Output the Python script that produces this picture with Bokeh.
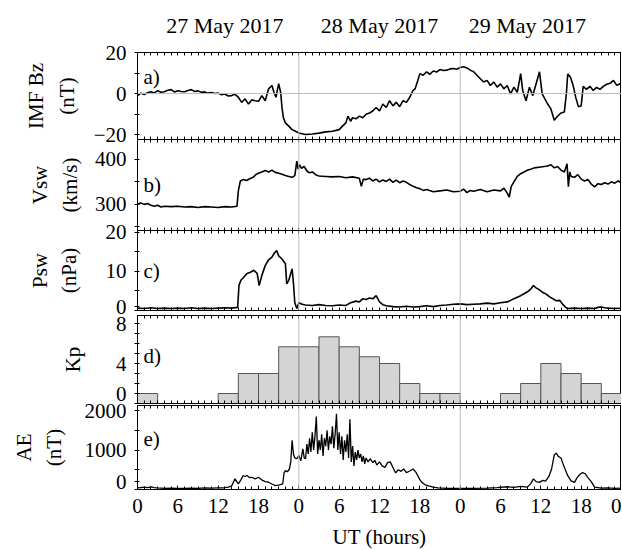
import math
from bokeh.plotting import figure
from bokeh.layouts import column
from bokeh.models import Range1d, FixedTicker, LinearAxis, Span, Label
from bokeh.embed import file_html
from bokeh.resources import INLINE

# ---------------- data (hours since 27 May 2017 00 UT) ----------------
bz_pts = [(0,-1.0),(0.5,0.2),(1,-0.5),(1.5,0.4),(2,0.9),(2.5,0.3),(3,1.4),(3.5,0.6),(4,0.9),(4.5,1.6),
          (5,1.9),(5.5,0.8),(6,1.4),(6.5,1.0),(7,0.9),(7.5,1.5),(8,1.9),(8.5,1.0),(9,1.3),(9.5,0.6),
          (10,0.8),(10.5,0.2),(11,0.5),(11.5,0.0),(12,0.2),(12.5,-0.6),(13,-0.2),(13.5,-1.2),(14,-1.0),
          (14.5,-0.4),(15,-1.8),(15.5,-4.3),(16,-2.6),(16.5,-5.1),(17,-3.1),(17.5,-3.5),(18,-3.8),
          (18.5,-1.0),(19,-3.5),(19.5,2.3),(20,3.9),(20.3,0.6),(20.6,-1.8),(20.8,1.5),(21,4.8),
          (21.3,0.5),(21.5,-7.0),(21.7,-11.8),(22,-14.3),(22.5,-15.9),(23,-17.6),(23.5,-18.4),
          (24,-19.2),(24.5,-19.6),(25,-20.0),(26,-19.7),(27,-19.3),(28,-18.7),(29,-18.4),(30,-17.6),
          (30.5,-15.9),(31,-14.3),(31.3,-11.0),(31.7,-13.5),(32,-11.8),(32.5,-12.3),(33,-11.0),
          (33.5,-11.8),(34,-10.1),(34.5,-9.5),(35,-8.5),(35.5,-6.8),(36,-8.5),(36.5,-5.1),(37,-6.8),
          (37.5,-3.5),(38,-6.0),(38.5,-4.3),(39,-6.4),(39.5,-3.5),(40,-4.3),(40.5,-1.8),(41,1.5),
          (41.3,2.3),(41.7,6.4),(42,9.7),(42.5,8.9),(43,10.6),(43.5,9.4),(44,11.0),(44.5,10.5),
          (45,11.7),(45.5,11.2),(46,11.4),(46.5,12.0),(47,12.2),(47.5,11.8),(48,12.7),(48.5,13.1),
          (49,12.5),(49.5,11.4),(50,10.6),(50.5,8.9),(51,7.2),(51.5,5.6),(52,6.4),(52.5,3.9),(53,5.6),
          (53.5,3.1),(54,4.7),(54.5,2.3),(55,3.9),(55.5,-0.2),(56,3.1),(56.5,0.6),(57,9.7),(57.3,1.5),
          (57.8,-3.5),(58.3,3.1),(58.8,-1.0),(59.3,4.8),(59.8,10.6),(60.2,-0.2),(60.5,-2.0),(61,-5.0),
          (61.5,-7.5),(62,-13.0),(62.5,-11.0),(63,-9.5),(63.5,-9.0),(63.8,0.0),(64,9.5),(64.4,8.0),
          (64.8,4.0),(65.2,-2.0),(65.6,-6.5),(66,-6.0),(66.3,3.5),(66.8,2.0),(67.3,3.5),(67.8,1.5),
          (68.3,3.0),(68.8,2.0),(69.3,3.5),(69.8,4.5),(70.3,5.0),(70.8,6.4),(71.3,4.0),(72,5.0)]

vsw_pts = [(0,301),(0.5,303),(1,300),(1.5,302),(2,298),(2.5,296),(3,298),(3.5,294),(4,296),(5,295),
           (6,296),(7,294),(8,295),(9,293),(10,295),(11,294),(12,293),(13,295),(14,294),(14.8,296),
           (15.0,330),(15.3,352),(15.7,355),(16.2,353),(16.7,357),(17.2,360),(17.6,366),(18,369),
           (18.5,372),(19,375),(19.5,372),(20,376),(20.5,371),(21,369),(21.5,367),(22,364),(22.5,362),
           (23,360),(23.4,364),(23.7,396),(23.9,378),(24.1,388),(24.4,380),(24.8,384),(25.2,374),
           (25.6,370),(26,372),(26.5,366),(27,363),(28,362),(29,361),(30,362),(31,359),(32,361),
           (33,358),(33.3,340),(33.6,356),(34,355),(34.5,358),(35,352),(35.5,356),(36,350),(36.5,354),
           (37,351),(37.5,356),(38,349),(38.5,354),(39,348),(39.5,352),(40,349),(40.5,344),(41,340),
           (41.5,337),(42,335),(42.5,331),(43,333),(44,328),(45,330),(46,332),(47,328),(48,329),
           (48.5,334),(49,326),(49.5,331),(50,329),(51,333),(52,328),(53,332),(54,330),(54.5,336),
           (55,325),(55.3,316),(55.6,340),(56,350),(56.5,362),(57,368),(57.5,372),(58,376),(58.5,378),
           (59,381),(60,383),(61,385),(61.5,388),(62,381),(62.5,384),(63,376),(63.5,372),(63.9,390),
           (64.1,339),(64.3,372),(64.5,362),(65,360),(65.5,366),(66,356),(66.5,352),(67,355),
           (67.5,345),(68,339),(68.5,346),(69,344),(69.5,348),(70,345),(70.5,350),(71,347),
           (71.5,352),(72,348)]

psw_pts = [(0,0.6),(1,0.5),(2,0.7),(3,0.5),(4,0.6),(5,0.5),(6,0.6),(7,0.5),(8,0.7),(9,0.5),(10,0.6),
           (11,0.5),(12,0.6),(13,0.7),(14,0.6),(14.9,0.8),(15.1,6.5),(15.4,7.8),(15.8,8.5),(16.3,9.5),
           (16.8,9.8),(17.3,10.3),(17.8,9.5),(18.1,6.4),(18.5,9.0),(19,11.5),(19.5,13.0),(20,13.7),
           (20.4,14.8),(20.7,15.4),(21,14.0),(21.5,13.2),(22,12.0),(22.2,6.8),(22.5,7.7),(22.8,9.5),
           (23,10.7),(23.2,7.0),(23.4,2.0),(23.7,0.5),(24,2.0),(24.5,1.6),(25,1.4),(26,1.3),(27,1.5),
           (28,1.3),(29,1.2),(30,1.4),(31,1.3),(31.7,2.0),(32.5,2.4),(33,2.2),(33.5,3.0),(34,2.8),
           (34.5,3.2),(35,3.0),(35.5,3.8),(36,2.2),(36.5,1.5),(37,1.2),(38,1.0),(39,0.9),(40,1.1),
           (41,0.9),(42,1.0),(43,1.2),(44,1.0),(45,1.3),(46,1.4),(47,1.6),(48,1.7),(49,1.5),(50,1.6),
           (51,1.7),(52,1.9),(53,1.7),(54,2.0),(55,2.2),(55.5,2.6),(56,3.0),(56.5,3.4),(57,3.8),
           (57.5,4.3),(58,4.8),(58.5,5.5),(58.9,6.4),(59.3,5.8),(59.8,5.3),(60.3,4.6),(60.8,4.2),
           (61.3,3.5),(61.8,3.0),(62.3,2.5),(62.8,2.6),(63.3,1.5),(63.7,0.8),(64,0.5),(65,0.6),
           (66,0.5),(67,0.6),(68,0.5),(68.5,0.8),(69,0.9),(69.5,0.7),(70,0.6),(71,0.5),(72,0.6)]

kp_start = [0, 3, 6, 9, 12, 15, 18, 21, 24, 27, 30, 33, 36, 39, 42, 45,
            48, 51, 54, 57, 60, 63, 66, 69]
kp_values = [1, 0, 0, 0, 1, 3, 3, 5.67, 5.67, 6.67, 5.67, 4.67, 4, 2, 1, 1,
             0, 0, 1, 2, 4, 3, 2, 1]

ae_pts = [(0,40),(0.5,50),(1,60),(1.5,45),(2,65),(2.5,50),(3,40),(4,30),(5,35),(6,25),(7,30),(8,35),
          (9,30),(10,40),(11,35),(12,40),(13,45),(13.5,60),(14,90),(14.5,270),(15,140),(15.4,250),
          (15.7,350),(16,330),(16.3,355),(16.7,300),(17,310),(17.5,270),(18,310),(18.6,230),(19,200),
          (19.5,185),(20,140),(20.5,100),(21,110),(21.6,140),(21.8,420),(22,480),(22.3,450),
          (22.6,520),(22.8,700),(23,1250),(23.2,900),(23.4,800),(23.7,780),(24,860),(24.3,730),
          (24.6,1030),(24.8,800),(25.0,780),(25.2,1150),(25.4,900),(25.6,1300),(25.8,950),(26.0,1450),
          (26.2,1000),(26.4,1350),(26.6,1850),(26.8,900),(27.0,1250),(27.2,1000),(27.4,1400),
          (27.6,850),(27.8,1300),(28.0,1100),(28.2,1500),(28.4,1000),(28.6,1350),(28.8,1150),
          (29.0,1600),(29.2,1050),(29.4,1400),(29.6,1920),(29.8,1000),(30.0,1450),(30.2,900),
          (30.4,1350),(30.6,750),(30.8,1250),(31.0,950),(31.2,1400),(31.4,800),(31.6,1780),(31.8,700),
          (32.0,1100),(32.2,600),(32.4,950),(32.6,750),(32.8,1000),(33.0,800),(33.2,900),(33.4,700),
          (33.6,850),(33.8,650),(34.0,800),(34.3,700),(34.6,780),(35.0,680),(35.3,740),(35.6,620),
          (36.0,700),(36.4,600),(36.8,560),(37.2,680),(37.6,700),(38.0,560),(38.4,420),(38.8,500),
          (39.2,460),(39.6,520),(40.0,430),(40.5,470),(41.0,520),(41.4,440),(41.7,350),(42.0,250),
          (42.3,180),(42.8,120),(43.3,90),(44.0,60),(44.7,40),(46,30),(48,25),(50,30),(52,35),
          (53.5,45),(55,70),(56,55),(57,80),(58,60),(58.5,150),(58.9,270),(59.3,200),(59.8,180),
          (60.3,230),(60.7,210),(61.2,330),(61.6,520),(62.0,880),(62.3,920),(62.6,840),(63.0,800),
          (63.3,650),(63.6,520),(64.0,350),(64.5,220),(65.0,180),(65.4,300),(65.8,380),(66.2,430),
          (66.6,400),(67.0,300),(67.5,200),(68.0,60),(69,35),(70,40),(71,30),(72,35)]

date_hours = [13, 36, 58]
date_labels = ["27 May 2017", "28 May 2017", "29 May 2017"]
x_ticks = list(range(0, 73, 6))
x_tick_labels = {h: str(h % 24) for h in x_ticks}
hour_ticks = list(range(0, 73))

# ---------------- style / layout ----------------
FONT = "Liberation Serif"
FS = "21px"
LEFT = 137
FRAME_W = 484
PAD = 12


def yconv(spec, page_y):
    top, bot, lo, hi = spec
    return hi - (page_y - top) / (bot - top) * (hi - lo)


def make_panel(spec, border_top, border_bottom, margin_top):
    top, bot, lo, hi = spec
    p = figure(frame_width=FRAME_W, frame_height=bot - top,
               x_range=Range1d(0, 72), y_range=Range1d(lo, hi),
               x_axis_type=None, y_axis_type=None,
               output_backend="svg", toolbar_location=None,
               min_border_left=LEFT, min_border_right=0,
               min_border_top=border_top, min_border_bottom=border_bottom,
               border_fill_color=None, background_fill_color=None,
               outline_line_color="black", outline_line_width=1)
    if margin_top:
        p.margin = (margin_top, 0, 0, 0)
    for d in (24, 48):
        p.add_layout(Span(location=d, dimension="height", line_color="#bcbcbc", line_width=1))
    return p


def tick_axis(p, yticks, yminor, overrides=None):
    ya = LinearAxis(ticker=FixedTicker(ticks=yticks, minor_ticks=yminor),
                    major_label_text_font=FONT, major_label_text_font_size=FS,
                    major_label_text_color="black",
                    major_tick_out=3, major_tick_in=2, minor_tick_out=3, minor_tick_in=2,
                    major_label_standoff=8, axis_line_color="black")
    if overrides:
        ya.major_label_overrides = overrides
    p.add_layout(ya, "left")


def title_axis(p, text, standoff):
    ax = LinearAxis(ticker=FixedTicker(ticks=[], minor_ticks=[]), axis_line_color=None,
                    major_tick_out=0, major_tick_in=0, minor_tick_out=0, minor_tick_in=0,
                    major_label_standoff=0,
                    axis_label=text, axis_label_standoff=standoff,
                    axis_label_text_font=FONT, axis_label_text_font_size=FS,
                    axis_label_text_font_style="normal", axis_label_text_color="black")
    p.add_layout(ax, "left")


def edge_axis(p, loc):
    xa = LinearAxis(ticker=FixedTicker(ticks=[], minor_ticks=hour_ticks),
                    major_tick_in=0, major_tick_out=0, minor_tick_in=3, minor_tick_out=0,
                    major_label_standoff=0, axis_line_color="black")
    p.add_layout(xa, loc)


def panel_letter(p, spec, text, page_y):
    p.add_layout(Label(x=0.9, y=yconv(spec, page_y), text=text, text_font=FONT,
                       text_font_size=FS, text_baseline="middle", text_color="black"))


# panel specs: frame top page y, frame bottom page y, y-range low, high
SA = (52, 139, -22.4, 20)
SB = (139, 230, 242, 444)
SC = (230, 310, 0, 20.5)
SD = (315, 403, 0, 8.8)
SE = (405, 489, 0, 2130)

# a) IMF Bz
pa = make_panel(SA, 52, PAD, 0)
top_a = LinearAxis(ticker=FixedTicker(ticks=date_hours, minor_ticks=hour_ticks),
                   major_tick_in=0, major_tick_out=0, minor_tick_in=3, minor_tick_out=0,
                   major_label_overrides=dict(zip(date_hours, date_labels)),
                   major_label_text_font=FONT, major_label_text_font_size="22px",
                   major_label_text_color="black", major_label_standoff=15,
                   axis_line_color="black")
pa.add_layout(top_a, "above")
edge_axis(pa, "below")
tick_axis(pa, [-20, 0, 20], [-10, 10])
title_axis(pa, "(nT)", 12)
title_axis(pa, "IMF Bz", 4)
pa.add_layout(Span(location=0, dimension="width", line_color="#bcbcbc", line_width=1))
pa.line([t for t, _ in bz_pts], [v for _, v in bz_pts], line_color="black", line_width=1.6)
panel_letter(pa, SA, "a)", 76)

# b) Vsw
pb = make_panel(SB, PAD, PAD, -24)
edge_axis(pb, "above")
edge_axis(pb, "below")
tick_axis(pb, [300, 400], [250, 350])
title_axis(pb, "(km/s)", 10)
title_axis(pb, "Vsw", 3)
pb.line([t for t, _ in vsw_pts], [v for _, v in vsw_pts], line_color="black", line_width=1.6)
panel_letter(pb, SB, "b)", 184)

# c) Psw
pc = make_panel(SC, PAD, PAD, -24)
edge_axis(pc, "above")
edge_axis(pc, "below")
tick_axis(pc, [1, 10, 20], [0, 5, 15], {1: "0"})
title_axis(pc, "(nPa)", 22)
title_axis(pc, "Psw", 2)
pc.line([t for t, _ in psw_pts], [v for _, v in psw_pts], line_color="black", line_width=1.6)
panel_letter(pc, SC, "c)", 270)

# d) Kp
pd_ = make_panel(SD, PAD, PAD, -19)
edge_axis(pd_, "above")
edge_axis(pd_, "below")
tick_axis(pd_, [1, 4, 8], [0, 2, 3, 5, 6, 7], {1: "0"})
title_axis(pd_, "Kp", 28)
pd_.quad(left=kp_start, right=[s + 3 for s in kp_start], bottom=0, top=kp_values,
         fill_color="#d4d4d4", line_color="#555555", line_width=1)
panel_letter(pd_, SD, "d)", 355)

# e) AE
pe = make_panel(SE, PAD, 40, -22)
edge_axis(pe, "above")
bottom_e = LinearAxis(ticker=FixedTicker(ticks=x_ticks, minor_ticks=hour_ticks),
                      major_tick_in=4, major_tick_out=0, minor_tick_in=3, minor_tick_out=0,
                      major_label_overrides=x_tick_labels,
                      major_label_text_font=FONT, major_label_text_font_size=FS,
                      major_label_text_color="black", major_label_standoff=9,
                      axis_label="UT (hours)", axis_label_text_font=FONT,
                      axis_label_text_font_size=FS, axis_label_text_font_style="normal",
                      axis_label_text_color="black", axis_label_standoff=9,
                      axis_line_color="black")
pe.add_layout(bottom_e, "below")
tick_axis(pe, [0, 200, 1000, 2000], [500, 1500], {0: "", 200: "0"})
title_axis(pe, "(nT)", 16)
title_axis(pe, "AE", 3)
pe.line([t for t, _ in ae_pts], [v for _, v in ae_pts], line_color="black", line_width=1.3)
panel_letter(pe, SE, "e)", 438)

layout = column(pa, pb, pc, pd_, pe, spacing=0)
open("out.html", "w").write(file_html(layout, INLINE))
